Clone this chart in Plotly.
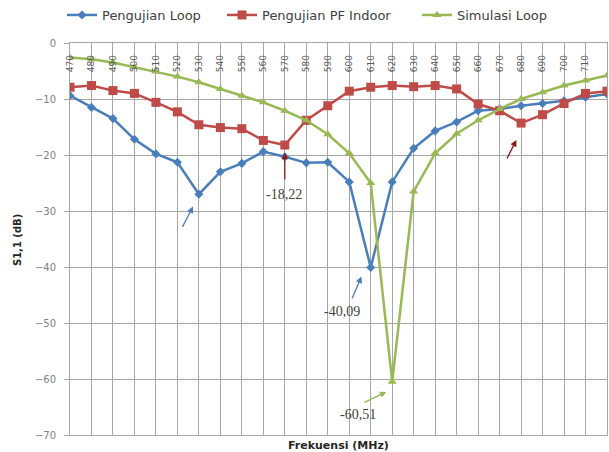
import plotly.graph_objects as go

freq = [470, 480, 490, 500, 510, 520, 530, 540, 550, 560, 570, 580, 590,
        600, 610, 620, 630, 640, 650, 660, 670, 680, 690, 700, 710, 720]
pengujian_loop = [-9.4, -11.5, -13.5, -17.2, -19.8, -21.3, -27.0, -23.0, -21.5, -19.4,
                  -20.3, -21.4, -21.3, -24.8, -40.09, -24.8, -18.8, -15.7, -14.1, -12.1,
                  -11.8, -11.2, -10.8, -10.3, -9.7, -9.1]
pengujian_pf = [-7.9, -7.6, -8.5, -9.0, -10.6, -12.3, -14.6, -15.1, -15.3, -17.4,
                -18.22, -13.8, -11.2, -8.6, -7.9, -7.6, -7.8, -7.6, -8.2, -10.9,
                -12.1, -14.3, -12.8, -10.8, -9.0, -8.6]
simulasi_loop = [-2.6, -2.9, -3.5, -4.3, -5.1, -6.0, -7.0, -8.2, -9.4, -10.6,
                 -12.1, -13.8, -16.3, -19.7, -25.0, -60.51, -26.5, -19.7, -16.2, -13.8,
                 -11.8, -10.0, -8.8, -7.6, -6.7, -5.8]
y_ticks = [0, -10, -20, -30, -40, -50, -60, -70]

BLUE = "#4A7EBB"
RED = "#BE4B48"
GREEN = "#98B954"
DARKRED = "#8B1A1A"

fig = go.Figure()
fig.add_trace(go.Scatter(x=freq, y=pengujian_loop, name="Pengujian Loop", mode="lines+markers",
                         line=dict(color=BLUE, width=2.5), legend="legend", showlegend=True,
                         marker=dict(symbol="diamond", size=7, color=BLUE)))
fig.add_trace(go.Scatter(x=freq, y=pengujian_pf, name="Pengujian PF Indoor", mode="lines+markers",
                         line=dict(color=RED, width=2.5), legend="legend2", showlegend=True,
                         marker=dict(symbol="square", size=9, color=RED)))
fig.add_trace(go.Scatter(x=freq, y=simulasi_loop, name="Simulasi Loop", mode="lines+markers",
                         line=dict(color=GREEN, width=2.5), legend="legend3", showlegend=True,
                         marker=dict(symbol="triangle-up", size=8, color=GREEN)))

grid = "#A6A6A6"
fig.update_xaxes(range=[470, 720], tickmode="array", tickvals=freq,
                 ticktext=[str(f) for f in freq], side="top", ticklabelposition="outside",
                 ticklabelstandoff=-32, automargin=False,
                 tickangle=-90, tickfont=dict(family="DejaVu Sans", size=9, color="#595959"),
                 showgrid=True, gridcolor=grid, gridwidth=1, zeroline=False,
                 showline=True, linecolor=grid, mirror=True, ticks="")
fig.update_yaxes(range=[-70, 0], tickmode="array", tickvals=y_ticks, automargin=False,
                 tickfont=dict(family="DejaVu Sans", size=10, color="#7F7F7F"),
                 showgrid=True, gridcolor=grid, gridwidth=1, zeroline=False,
                 showline=True, linecolor=grid, mirror=True,
                 ticks="outside", ticklen=5, tickcolor=grid, ticklabelstandoff=6)

txt = dict(family="Liberation Serif", size=14, color="#404040")
ann = [
    dict(x=569.6, y=-27.0, text="-18,22", showarrow=False, font=txt),
    dict(x=596.4, y=-48.0, text="-40,09", showarrow=False, font=txt),
    dict(x=604.1, y=-66.4, text="-60,51", showarrow=False, font=txt),
    dict(x=570, y=-19.6, ax=570, ay=-24.6, axref="x", ayref="y", text="", showarrow=True,
         arrowhead=2, arrowsize=1, arrowwidth=1.3, arrowcolor=DARKRED),
    dict(x=605.7, y=-41.7, ax=601.0, ay=-45.9, axref="x", ayref="y", text="", showarrow=True,
         arrowhead=2, arrowsize=1, arrowwidth=1.3, arrowcolor=BLUE),
    dict(x=617.3, y=-62.3, ax=606.4, ay=-64.3, axref="x", ayref="y", text="", showarrow=True,
         arrowhead=2, arrowsize=1, arrowwidth=1.3, arrowcolor=GREEN),
    dict(x=527.3, y=-29.2, ax=522.0, ay=-33.1, axref="x", ayref="y", text="", showarrow=True,
         arrowhead=2, arrowsize=1, arrowwidth=1.3, arrowcolor=BLUE),
    dict(x=677.8, y=-17.3, ax=673.1, ay=-20.9, axref="x", ayref="y", text="", showarrow=True,
         arrowhead=2, arrowsize=1, arrowwidth=1.3, arrowcolor=DARKRED),
    dict(xref="paper", yref="paper", x=0.5, y=(435 - 445) / 392,
         text="<b>Frekuensi (MHz)</b>", showarrow=False, xanchor="center", yanchor="middle",
         font=dict(family="DejaVu Sans", size=11, color="#262626")),
    dict(xref="paper", yref="paper", x=(17 - 70) / 537.5, y=(435 - 240) / 392,
         text="<b>S1,1 (dB)</b>", showarrow=False, textangle=-90, xanchor="center",
         yanchor="middle", font=dict(family="DejaVu Sans", size=10, color="#262626")),
]
leg_font = dict(family="DejaVu Sans", size=13, color="#404040")
def leg(xpx):
    return dict(orientation="h", xref="container", yref="container", x=xpx / 609,
                y=1 - 15 / 452, xanchor="left", yanchor="middle", font=leg_font,
                itemwidth=30, bgcolor="rgba(0,0,0,0)")

fig.update_layout(
    width=609, height=452, showlegend=True,
    margin=dict(l=70, r=1.5, t=43, b=17, autoexpand=False),
    paper_bgcolor="white", plot_bgcolor="white",
    annotations=ann,
    legend=leg(62), legend2=leg(222), legend3=leg(417),
)
fig.write_html("out.html", config={"displayModeBar": False},
               post_script="document.body.style.margin='0';document.body.style.overflow='hidden';")
